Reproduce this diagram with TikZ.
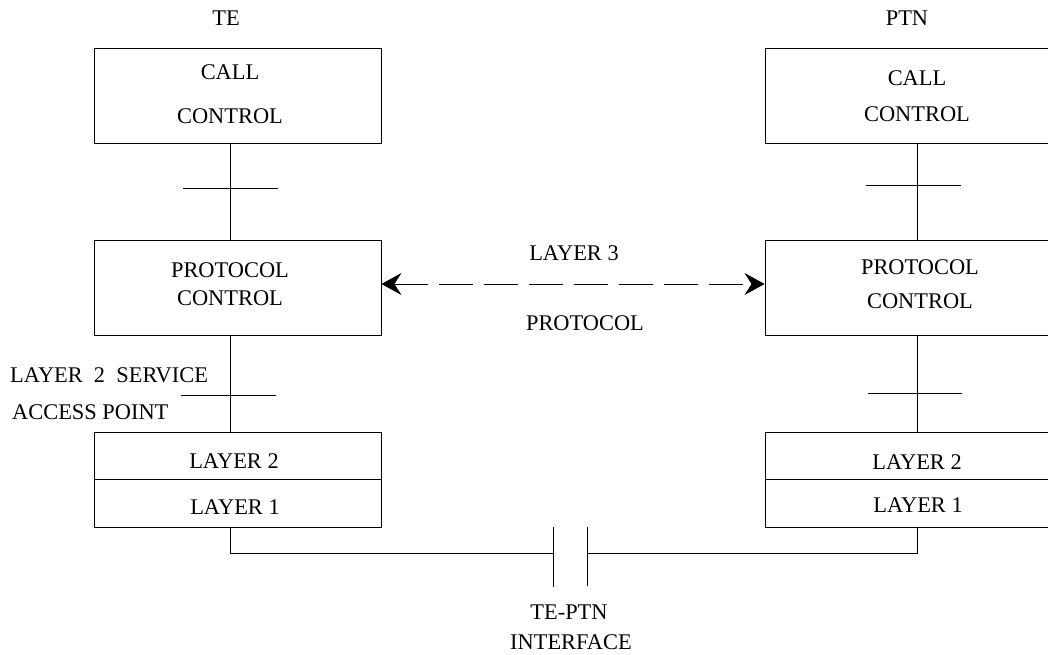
\documentclass[tikz,border=0pt]{standalone}
\usepackage{fontspec}
\setmainfont{Liberation Serif}
\usetikzlibrary{arrows.meta}
\begin{document}
\begin{tikzpicture}[x=1pt,y=-1pt,
  every node/.style={font=\fontsize{22.4}{27}\selectfont, inner sep=0pt, text depth=0pt},
  blk/.style={draw, line width=0.9pt, minimum width=287pt, minimum height=95pt},
  rblk/.style={draw, line width=0.9pt, minimum width=304pt, minimum height=95pt},
  wire/.style={line width=0.9pt},
  tick/.style={line width=0.9pt},
  l3arrow/.style={line width=0.9pt, dash pattern=on 34pt off 11pt,
    {Stealth[length=20pt,width=22pt,inset=7pt]}-{Stealth[length=20pt,width=22pt,inset=7pt]}}
]
\clip (0,0) rectangle (1048,655);
\fill[white] (0,0) rectangle (1048,655);

% left column boxes
\node[blk] (lcall) at (237.5,95.5) {};
\node[blk] (lproto) at (237.5,287.5) {};
\node[blk] (llayer) at (237.5,479.5) {};
% right column boxes
\node[rblk] (rcall) at (917,95.5) {};
\node[rblk] (rproto) at (917,287.5) {};
\node[rblk] (rlayer) at (917,479.5) {};

\draw[wire] (llayer.west) -- (llayer.east);
\draw[wire] (rlayer.west) -- (rlayer.east);

\coordinate (lv) at (230,0);
\coordinate (rv) at (917,0);

% vertical connections
\draw[wire] (lcall.south -| lv) -- (lproto.north -| lv);
\draw[wire] (lproto.south -| lv) -- (llayer.north -| lv);
\draw[wire] (rcall.south -| rv) -- (rproto.north -| rv);
\draw[wire] (rproto.south -| rv) -- (rlayer.north -| rv);

% service access point ticks
\draw[tick] (183,188) -- (278,188);
\draw[tick] (181,395) -- (276,395);
\draw[tick] (866,185) -- (961,185);
\draw[tick] (868,393) -- (962,393);

% physical interface
\coordinate (bl) at (553,553);
\coordinate (br) at (587,553);
\draw[wire] (llayer.south -| lv) |- (bl);
\draw[wire] (rlayer.south -| rv) |- (br);
\draw[wire] (553,527) -- (553,587);
\draw[wire] (587,527) -- (587,586);

% layer 3 protocol arrow
\draw[l3arrow] ([yshift=3.5pt]lproto.east) -- ([yshift=3.5pt]rproto.west);

% labels
\node (te) at (226,18) {TE};
\node (ptn) at (907,18) {PTN};
\node (lc1) at (230,72) {CALL};
\node (lc2) at (230,116) {CONTROL};
\node (rc1) at (917,78) {CALL};
\node (rc2) at (917,114) {CONTROL};
\node (lp1) at (230,270) {PROTOCOL};
\node (lp2) at (230,298) {CONTROL};
\node (rp1) at (920,267) {PROTOCOL};
\node (rp2) at (920,301) {CONTROL};
\node (ll2) at (234,461) {LAYER 2};
\node (ll1) at (235,507) {LAYER 1};
\node (rl2) at (917,462) {LAYER 2};
\node (rl1) at (918,505) {LAYER 1};
\node[anchor=west] (sap1) at (10,375) {LAYER\ \ 2\ \ SERVICE};
\node[anchor=west] (sap2) at (12,412) {ACCESS POINT};
\node (l3a) at (574,253) {LAYER 3};
\node (l3b) at (585,323) {PROTOCOL};
\node (if1) at (569,612) {TE-PTN};
\node (if2) at (571,642) {INTERFACE};
\end{tikzpicture}
\end{document}
